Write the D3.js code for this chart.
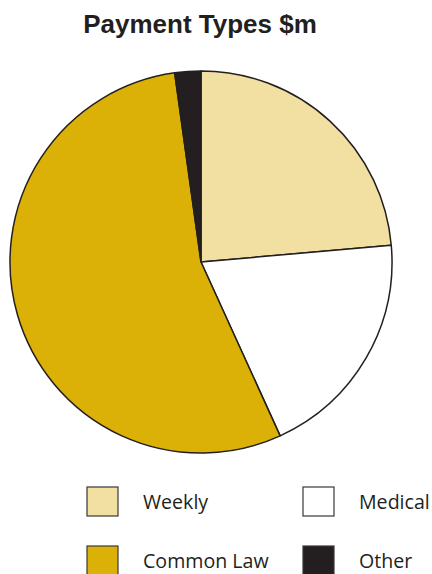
<!DOCTYPE html>
<html>
<head>
<meta charset="utf-8">
<script src="https://cdn.jsdelivr.net/npm/d3@7"></script>
<style>
  html, body { margin: 0; padding: 0; background: #fff; }
  svg { display: block; }
</style>
</head>
<body>
<div id="chart"></div>
<script>
// payment types ($m)
const categories = ['Weekly', 'Medical', 'Common Law', 'Other'];
const values = [23.6, 19.6, 54.6, 2.2];
const colors = ['#f2dfa2', '#ffffff', '#dbb108', '#231f20'];

const W = 432, H = 574;
const svg = d3.select('#chart').append('svg')
  .attr('width', W).attr('height', H);

svg.append('text')
  .text('Payment Types $m')
  .attr('x', 200).attr('y', 33)
  .attr('text-anchor', 'middle')
  .attr('font-family', 'Liberation Sans, Arial, sans-serif')
  .attr('font-weight', 'bold')
  .attr('font-size', '26px')
  .attr('fill', '#231f20');

const cx = 201, cy = 262, R = 191;

const pie = d3.pie().sort(null).value(d => d.v);
const arc = d3.arc().innerRadius(0).outerRadius(R);
const data = categories.map((c, i) => ({ c, v: values[i], color: colors[i] }));

const g = svg.append('g').attr('transform', `translate(${cx},${cy})`);
g.selectAll('path')
  .data(pie(data))
  .join('path')
  .attr('d', arc)
  .attr('fill', d => d.data.color)
  .attr('stroke', '#231f20')
  .attr('stroke-width', 1.5)
  .attr('stroke-linejoin', 'round');

// legend, 2 x 2
const legX = [87, 303], legY = [487, 546];
const leg = svg.append('g');
data.forEach((d, i) => {
  const x = legX[i % 2], y = legY[Math.floor(i / 2)];
  leg.append('rect')
    .attr('x', x).attr('y', y)
    .attr('width', 31).attr('height', 29)
    .attr('fill', d.color)
    .attr('stroke', '#3a3637')
    .attr('stroke-width', 1.2);
  leg.append('text')
    .text(d.c)
    .attr('x', x + 56).attr('y', y + 22)
    .attr('font-family', 'Open Sans, sans-serif')
    .attr('font-size', '19.6px')
    .attr('fill', '#231f20');
});
</script>
</body>
</html>
